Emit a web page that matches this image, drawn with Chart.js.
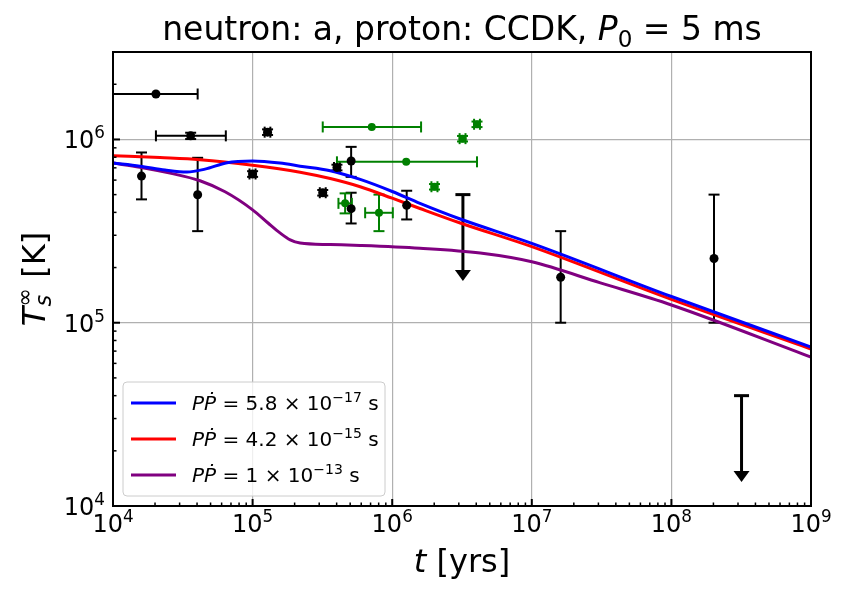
<!DOCTYPE html>
<html>
<head>
<meta charset="utf-8">
<script src="https://cdn.jsdelivr.net/npm/chart.js@4.4.1/dist/chart.umd.min.js"></script>
<style>
  html, body { margin: 0; padding: 0; background: #fff; }
  canvas { display: block; }
</style>
</head>
<body>
<canvas id="coolingChart" width="850" height="597"></canvas>
<script>
// Cooling curves: age [yrs] and redshifted surface temperature [K]
const blueAge  = [1e4, 1.56e4, 2.36e4, 3.39e4, 4.56e4, 6.56e4, 1e5, 1.57e5, 2.19e5, 3.6e5, 5.9e5, 1e6, 1.58e6, 3.07e6, 1e7, 1e8, 1e9];
const blueTemp = [7.43e5, 7.15e5, 6.81e5, 6.64e5, 6.89e5, 7.47e5, 7.62e5, 7.43e5, 7.15e5, 6.75e5, 6.05e5, 5.2e5, 4.48e5, 3.68e5, 2.71e5, 1.39e5, 7.37e4];

const redAge  = [1e4, 2.17e4, 4.2e4, 1e5, 2.19e5, 3.6e5, 5.9e5, 1e6, 1.58e6, 3.07e6, 1e7, 1e8, 1e9];
const redTemp = [8.15e5, 7.96e5, 7.76e5, 7.24e5, 6.63e5, 6.12e5, 5.52e5, 4.78e5, 4.2e5, 3.50e5, 2.60e5, 1.34e5, 7.19e4];

const purpleAge  = [1e4, 1.56e4, 2.56e4, 4.2e4, 6.35e4, 1e5, 1.29e5, 1.57e5, 1.86e5, 2.19e5, 3.6e5, 5.9e5, 1.58e6, 4.27e6, 1e7, 3.1e7, 1e8, 1e9];
const purpleTemp = [7.43e5, 7.06e5, 6.55e5, 5.95e5, 5.18e5, 4.13e5, 3.50e5, 3.09e5, 2.83e5, 2.72e5, 2.67e5, 2.64e5, 2.55e5, 2.40e5, 2.15e5, 1.65e5, 1.25e5, 6.5e4];

// Observed neutron stars (black), null = no error bar
const obsAge    = [2.03e4, 3.6e4, 1.28e5, 1e5, 1.6e4, 4.04e4, 4.02e5, 5.08e5, 3.18e5, 5.08e5, 1.27e6, 1.61e7, 2.02e8];
const obsTemp   = [1.77e6, 1.046e6, 1.096e6, 6.48e5, 6.31e5, 4.99e5, 7.03e5, 7.63e5, 5.12e5, 4.19e5, 4.37e5, 1.77e5, 2.24e5];
const obsAgeLo  = [8e3, 2.03e4, 1.22e5, 0.95e5, null, null, 3.83e5, null, 3.03e5, null, null, null, null];
const obsAgeHi  = [4.04e4, 6.43e4, 1.34e5, 1.05e5, null, null, 4.22e5, null, 3.34e5, null, null, null, null];
const obsTempLo = [null, 1.005e6, 1.058e6, 6.25e5, 4.71e5, 3.16e5, 6.78e5, 6.25e5, 4.94e5, 3.48e5, 3.66e5, 1.0e5, 1.0e5];
const obsTempHi = [null, 1.088e6, 1.135e6, 6.71e5, 8.49e5, 7.94e5, 7.28e5, 9.11e5, 5.30e5, 5.12e5, 5.25e5, 3.16e5, 5.0e5];

// Observed neutron stars (green)
const grnAge    = [7.14e5, 1.26e6, 3.19e6, 4.05e6, 2.01e6, 4.6e5, 8.04e5];
const grnTemp   = [1.17e6, 7.55e5, 1.01e6, 1.21e6, 5.52e5, 4.48e5, 3.98e5];
const grnAgeLo  = [3.18e5, 4.02e5, 3.04e6, 3.86e6, 1.91e6, 4.12e5, 6.4e5];
const grnAgeHi  = [1.61e6, 4.05e6, 3.35e6, 4.25e6, 2.11e6, 5.14e5, 1.01e6];
const grnTempLo = [null, null, 0.975e6, 1.168e6, 5.33e5, 3.95e5, 3.16e5];
const grnTempHi = [null, null, 1.045e6, 1.252e6, 5.71e5, 5.08e5, 5.0e5];

// Upper limits (arrows)
const limAge  = [3.21e6, 3.18e8];
const limTemp = [5.0e5, 4.0e4];
const limTip  = [1.69e5, 1.35e4];

// Axis ticks and legend text
const xDecades = [1e4, 1e5, 1e6, 1e7, 1e8, 1e9];
const yDecades = [1e4, 1e5, 1e6];
const xTickExp = ['4', '5', '6', '7', '8', '9'];
const yTickExp = ['4', '5', '6'];
const legendMant = ['5.8', '4.2', '1'];
const legendExp  = ['\u221217', '\u221215', '\u221213'];
const curveColors = ['#0000ff', '#ff0000', '#800080'];

const FONT = '"DejaVu Sans", sans-serif';

function toPoints(xs, ys) {
    return xs.map((x, i) => ({ x: x, y: ys[i] }));
}

// draws text made of normal / italic / super / subscript parts
// a part with keep:true does not advance the pen (stacked sub/sup)
function drawRich(ctx, parts, x, y, size, align) {
    const segs = parts.map(p => {
        const s = (p.sup || p.sub) ? size * 0.7 : size;
        const font = (p.it ? 'italic ' : '') + s + 'px ' + FONT;
        ctx.font = font;
        return { p: p, font: font, w: ctx.measureText(p.t).width };
    });
    const total = segs.reduce((a, s) => a + (s.p.keep ? 0 : s.w), 0);
    let cx = align === 'center' ? x - total / 2 : align === 'right' ? x - total : x;
    ctx.textAlign = 'left';
    ctx.textBaseline = 'alphabetic';
    segs.forEach(s => {
        ctx.font = s.font;
        const dy = s.p.sup ? -size * 0.42 : s.p.sub ? size * 0.2 : 0;
        ctx.fillText(s.p.t, cx, y + dy);
        if (!s.p.keep) cx += s.w;
    });
}

function seg(ctx, x1, y1, x2, y2) {
    ctx.beginPath();
    ctx.moveTo(x1, y1);
    ctx.lineTo(x2, y2);
    ctx.stroke();
}

function drawErrorBars(ctx, sx, sy, ages, temps, aLo, aHi, tLo, tHi, color) {
    const cap = 5.5;
    ctx.strokeStyle = color;
    ctx.lineWidth = 2;
    ages.forEach((a, i) => {
        const px = sx.getPixelForValue(a), py = sy.getPixelForValue(temps[i]);
        if (aLo[i] !== null) {
            const l = sx.getPixelForValue(aLo[i]), r = sx.getPixelForValue(aHi[i]);
            seg(ctx, l, py, r, py);
            seg(ctx, l, py - cap, l, py + cap);
            seg(ctx, r, py - cap, r, py + cap);
        }
        if (tLo[i] !== null) {
            const lo = sy.getPixelForValue(tLo[i]), hi = sy.getPixelForValue(tHi[i]);
            seg(ctx, px, lo, px, hi);
            seg(ctx, px - cap, lo, px + cap, lo);
            seg(ctx, px - cap, hi, px + cap, hi);
        }
    });
}

// Error bars and upper limit arrows, below the curves
const errorBarPlugin = {
    id: 'errorBars',
    beforeDatasetsDraw(chart) {
        const ctx = chart.ctx, area = chart.chartArea;
        const sx = chart.scales.x, sy = chart.scales.y;
        ctx.save();
        ctx.beginPath();
        ctx.rect(area.left, area.top, area.right - area.left, area.bottom - area.top);
        ctx.clip();
        drawErrorBars(ctx, sx, sy, obsAge, obsTemp, obsAgeLo, obsAgeHi, obsTempLo, obsTempHi, '#000000');
        drawErrorBars(ctx, sx, sy, grnAge, grnTemp, grnAgeLo, grnAgeHi, grnTempLo, grnTempHi, '#008000');

        ctx.strokeStyle = '#000';
        ctx.fillStyle = '#000';
        limAge.forEach((a, i) => {
            const px = sx.getPixelForValue(a);
            const top = sy.getPixelForValue(limTemp[i]);
            const tip = sy.getPixelForValue(limTip[i]);
            ctx.lineWidth = 3;
            seg(ctx, px, top, px, tip - 10);
            seg(ctx, px - 7.5, top, px + 7.5, top);
            ctx.beginPath();
            ctx.moveTo(px - 8, tip - 11);
            ctx.lineTo(px + 8, tip - 11);
            ctx.lineTo(px, tip);
            ctx.closePath();
            ctx.fill();
        });
        ctx.restore();
    }
};

// Frame, inward ticks, tick labels, titles and legend
const decorPlugin = {
    id: 'decor',
    afterDraw(chart) {
        const ctx = chart.ctx, area = chart.chartArea;
        const sx = chart.scales.x, sy = chart.scales.y;
        ctx.save();
        ctx.strokeStyle = '#000';
        ctx.fillStyle = '#000';

        // ticks
        xDecades.forEach((d, k) => {
            const px = sx.getPixelForValue(d);
            ctx.lineWidth = 2;
            seg(ctx, px, area.bottom, px, area.bottom - 7);
            if (k < xDecades.length - 1) {
                for (let m = 2; m <= 9; m++) {
                    const mx = sx.getPixelForValue(d * m);
                    ctx.lineWidth = 1.5;
                    seg(ctx, mx, area.bottom, mx, area.bottom - 3.5);
                }
            }
            drawRich(ctx, [{ t: '10' }, { t: xTickExp[k], sup: true }], px, 532, 24, 'center');
        });
        yDecades.forEach((d, k) => {
            const py = sy.getPixelForValue(d);
            ctx.lineWidth = 2;
            seg(ctx, area.left, py, area.left + 7, py);
            for (let m = 2; m <= 9; m++) {
                if (d * m > sy.max) break;
                const my = sy.getPixelForValue(d * m);
                ctx.lineWidth = 1.5;
                seg(ctx, area.left, my, area.left + 3.5, my);
            }
            drawRich(ctx, [{ t: '10' }, { t: yTickExp[k], sup: true }], 105, py + 9, 24, 'right');
        });

        // frame
        ctx.lineWidth = 2;
        ctx.strokeRect(area.left, area.top, area.right - area.left, area.bottom - area.top);

        // title and axis labels
        const cx = (area.left + area.right) / 2;
        drawRich(ctx, [{ t: 'neutron: a, proton: CCDK, ' }, { t: 'P', it: true }, { t: '0', sub: true }, { t: ' = 5 ms' }], cx, 40, 33, 'center');
        drawRich(ctx, [{ t: 't', it: true }, { t: ' [yrs]' }], cx, 572, 32, 'center');
        ctx.save();
        ctx.translate(45, (area.top + area.bottom) / 2);
        ctx.rotate(-Math.PI / 2);
        drawRich(ctx, [{ t: 'T', it: true }, { t: 's', sub: true, it: true, keep: true }, { t: '\u221e', sup: true }, { t: ' [K]' }], 0, 0, 32, 'center');
        ctx.restore();

        // legend
        const bx = 123, by = 382, bw = 262, bh = 114;
        ctx.beginPath();
        ctx.roundRect(bx, by, bw, bh, 4);
        ctx.fillStyle = 'rgba(255,255,255,0.8)';
        ctx.fill();
        ctx.strokeStyle = '#cccccc';
        ctx.lineWidth = 1;
        ctx.stroke();
        legendMant.forEach((m, i) => {
            const ry = 403 + i * 36;
            ctx.strokeStyle = curveColors[i];
            ctx.lineWidth = 3;
            seg(ctx, 131, ry, 176, ry);
            ctx.fillStyle = '#000';
            drawRich(ctx, [
                { t: 'P\u1e56', it: true },
                { t: ' = ' + m + ' \u00d7 10' },
                { t: legendExp[i], sup: true },
                { t: ' s' }
            ], 192, ry + 7, 20, 'left');
        });
        ctx.restore();
    }
};

const ctx = document.getElementById('coolingChart').getContext('2d');
const coolingChart = new Chart(ctx, {
    type: 'scatter',
    data: {
        datasets: [
            { data: toPoints(obsAge, obsTemp), pointRadius: 4.5, pointBackgroundColor: '#000', pointBorderWidth: 0 },
            { data: toPoints(grnAge, grnTemp), pointRadius: 4, pointBackgroundColor: '#008000', pointBorderWidth: 0 },
            { data: toPoints(blueAge, blueTemp), showLine: true, borderColor: curveColors[0], borderWidth: 3, pointRadius: 0, cubicInterpolationMode: 'monotone' },
            { data: toPoints(redAge, redTemp), showLine: true, borderColor: curveColors[1], borderWidth: 3, pointRadius: 0, cubicInterpolationMode: 'monotone' },
            { data: toPoints(purpleAge, purpleTemp), showLine: true, borderColor: curveColors[2], borderWidth: 3, pointRadius: 0, cubicInterpolationMode: 'monotone' }
        ]
    },
    options: {
        responsive: false,
        animation: false,
        devicePixelRatio: 1,
        events: [],
        layout: { padding: { left: 0, right: 39, top: 52, bottom: 0 } },
        plugins: { legend: { display: false }, tooltip: { enabled: false }, title: { display: false } },
        scales: {
            x: {
                type: 'logarithmic', min: 1e4, max: 1e9,
                afterBuildTicks: (scale) => { scale.ticks = xDecades.map(v => ({ value: v })); },
                afterFit: (scale) => { scale.height = 91; },
                ticks: { display: false },
                grid: { color: '#b0b0b0', lineWidth: 1.2, drawTicks: false },
                border: { display: false }
            },
            y: {
                type: 'logarithmic', min: 1e4, max: 3e6,
                afterBuildTicks: (scale) => { scale.ticks = yDecades.map(v => ({ value: v })); },
                afterFit: (scale) => { scale.width = 113; },
                ticks: { display: false },
                grid: { color: '#b0b0b0', lineWidth: 1.2, drawTicks: false },
                border: { display: false }
            }
        }
    },
    plugins: [errorBarPlugin, decorPlugin]
});
</script>
</body>
</html>
